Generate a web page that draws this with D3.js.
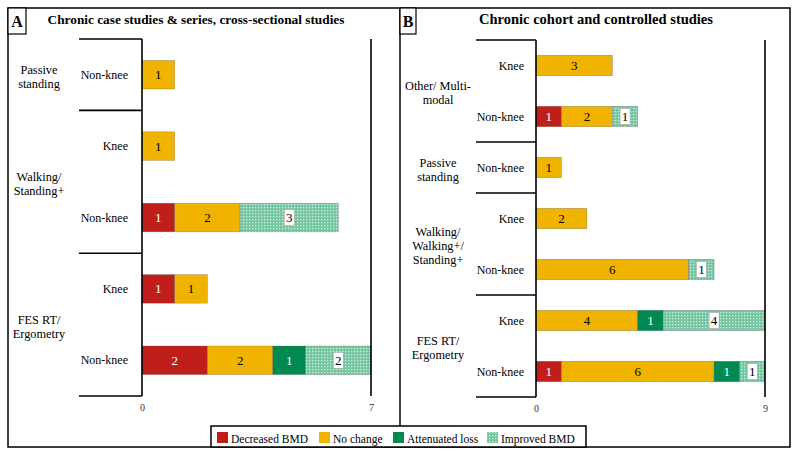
<!DOCTYPE html>
<html>
<head>
<meta charset="utf-8">
<script src="https://cdn.jsdelivr.net/npm/d3@7"></script>
<style>
  html, body { margin: 0; padding: 0; background: #fff; }
  svg, svg text { font-family: "Liberation Serif", "DejaVu Serif", serif; }
</style>
</head>
<body>
<svg id="chart" width="798" height="455" font-family="Liberation Serif"></svg>
<script>
// ---------- data ----------
const seriesNames = ["Decreased BMD", "No change", "Attenuated loss", "Improved BMD"];

// Panel A
const titleA = "Chronic case studies & series, cross-sectional studies";
const groupsA = [["Passive", "standing"], ["Walking/", "Standing+"], ["FES RT/", "Ergometry"]];
const groupSizesA = [1, 2, 2];
const rowLabelsA = ["Non-knee", "Knee", "Non-knee", "Knee", "Non-knee"];
const decreasedA = [0, 0, 1, 1, 2];
const noChangeA = [1, 1, 2, 1, 2];
const attenuatedA = [0, 0, 0, 0, 1];
const improvedA = [0, 0, 3, 0, 2];
const ticksA = [0, 7];

// Panel B
const titleB = "Chronic cohort and controlled studies";
const groupsB = [["Other/ Multi-", "modal"], ["Passive", "standing"], ["Walking/", "Walking+/", "Standing+"], ["FES RT/", "Ergometry"]];
const groupSizesB = [2, 1, 2, 2];
const rowLabelsB = ["Knee", "Non-knee", "Non-knee", "Knee", "Non-knee", "Knee", "Non-knee"];
const decreasedB = [0, 1, 0, 0, 0, 0, 1];
const noChangeB = [3, 2, 1, 2, 6, 4, 6];
const attenuatedB = [0, 0, 0, 0, 0, 1, 1];
const improvedB = [0, 1, 0, 0, 1, 4, 1];
const ticksB = [0, 9];

// ---------- drawing ----------
const FONT = "Liberation Serif, DejaVu Serif, serif";
const svg = d3.select("#chart");
const colors = ["#BF1E1B", "#F0B400", "#008A52", "url(#dots)"];
const textColors = ["#fff", "#000", "#fff", "#000"];

const defs = svg.append("defs");
const pat = defs.append("pattern").attr("id", "dots")
  .attr("patternUnits", "userSpaceOnUse").attr("width", 3).attr("height", 3);
pat.append("rect").attr("width", 3).attr("height", 3).attr("fill", "#74C5A1");
pat.append("rect").attr("width", 1.3).attr("height", 1.3).attr("fill", "#D2EFE2");

function txt(sel) { return sel.append("text").attr("font-family", FONT); }

// outer frame
svg.append("rect").attr("x", 8).attr("y", 8).attr("width", 782).attr("height", 439)
  .attr("fill", "#fff").attr("stroke", "#000").attr("stroke-width", 1.5);
svg.append("line").attr("x1", 400).attr("x2", 400).attr("y1", 8).attr("y2", 447)
  .attr("stroke", "#000").attr("stroke-width", 1.5);

function drawPanel(cfg) {
  const rows = cfg.rowLabels.map((r, i) => ({
    i, label: r,
    "Decreased BMD": cfg.dec[i], "No change": cfg.noc[i],
    "Attenuated loss": cfg.att[i], "Improved BMD": cfg.imp[i]
  }));
  const x = d3.scaleLinear().domain([0, cfg.ticks[cfg.ticks.length - 1]]).range([cfg.x0, cfg.x1]);
  const y = d3.scaleBand().domain(rows.map(d => d.i)).range([cfg.y0, cfg.y1])
    .paddingInner(0.6).paddingOuter(0.3);
  const g = svg.append("g");

  // panel letter box & title
  g.append("rect").attr("x", cfg.px).attr("y", 8).attr("width", cfg.letterW).attr("height", 26)
    .attr("fill", "#fff").attr("stroke", "#000").attr("stroke-width", 1.2);
  txt(g).attr("x", cfg.px + cfg.letterW / 2).attr("y", 27).attr("text-anchor", "middle")
    .attr("font-weight", "bold").attr("font-size", 16).text(cfg.letter);
  txt(g).attr("x", cfg.titleX).attr("y", 24).attr("text-anchor", "middle")
    .attr("font-weight", "bold").attr("font-size", cfg.titleSize).text(cfg.title);

  // stacked bars
  const stack = d3.stack().keys(seriesNames)(rows);
  stack.forEach((layer, k) => {
    layer.forEach((seg, j) => {
      const v = seg[1] - seg[0];
      if (v <= 0) return;
      const xa = x(seg[0]), xb = x(seg[1]);
      const yy = y(rows[j].i), h = y.bandwidth();
      g.append("rect").attr("x", xa).attr("y", yy).attr("width", xb - xa).attr("height", h)
        .attr("fill", colors[k]).attr("stroke", "rgba(80,80,80,0.45)").attr("stroke-width", 0.6);
      const cx = (xa + xb) / 2, cy = yy + h / 2;
      if (k === 3) {
        g.append("rect").attr("x", cx - 5).attr("y", cy - 8).attr("width", 10).attr("height", 16)
          .attr("fill", "#fff").attr("stroke", "#9a9a9a").attr("stroke-width", 0.5);
      }
      txt(g).attr("x", cx).attr("y", cy + 4.5).attr("text-anchor", "middle")
        .attr("font-size", 13).attr("fill", textColors[k]).text(v);
    });
  });

  // axis lines
  g.append("line").attr("x1", x(0)).attr("x2", x(0)).attr("y1", cfg.y0).attr("y2", cfg.y1)
    .attr("stroke", "#000").attr("stroke-width", 1.6);
  g.append("line").attr("x1", cfg.x1).attr("x2", cfg.x1).attr("y1", cfg.y0).attr("y2", cfg.y1)
    .attr("stroke", "#000").attr("stroke-width", 1.6);

  // tick labels via axis
  const axis = d3.axisBottom(x).tickValues(cfg.ticks).tickFormat(d3.format("d"))
    .tickSize(0).tickPadding(0);
  const ax = g.append("g").attr("transform", `translate(0,${cfg.y1 + 6})`).call(axis)
    .attr("font-family", FONT);
  ax.select(".domain").remove();
  ax.selectAll("text").attr("font-family", FONT).attr("font-size", 10)
    .attr("fill", "#333").attr("dy", "0.9em");

  // row labels
  rows.forEach(d => {
    txt(g).attr("x", cfg.subX).attr("y", y(d.i) + y.bandwidth() / 2 + 4)
      .attr("text-anchor", "end").attr("font-size", 12).text(d.label);
  });

  // group brackets + labels
  let start = 0;
  const step = y.step();
  const boundaries = [cfg.y0];
  cfg.groups.forEach((lines, gi) => {
    const n = cfg.sizes[gi];
    const top = cfg.y0 + start * step, bot = cfg.y0 + (start + n) * step;
    boundaries.push(bot);
    const mid = (top + bot) / 2 + 2;
    const lh = 14;
    lines.forEach((ln, li) => {
      txt(g).attr("x", cfg.groupX)
        .attr("y", mid + (li - (lines.length - 1) / 2) * lh + 4)
        .attr("text-anchor", "middle").attr("font-size", 12.3).text(ln);
    });
    start += n;
  });
  boundaries.forEach(b => {
    g.append("line").attr("x1", cfg.bracketX).attr("x2", x(0)).attr("y1", b).attr("y2", b)
      .attr("stroke", "#000").attr("stroke-width", 1.6);
  });
}

drawPanel({
  letter: "A", px: 8, letterW: 18, title: titleA, titleX: 196, titleSize: 13.3,
  rowLabels: rowLabelsA, dec: decreasedA, noc: noChangeA, att: attenuatedA, imp: improvedA,
  ticks: ticksA, x0: 142, x1: 371, y0: 39, y1: 396,
  groups: groupsA, sizes: groupSizesA, bracketX: 79, subX: 128, groupX: 39
});
drawPanel({
  letter: "B", px: 400, letterW: 16, title: titleB, titleX: 596, titleSize: 14.5,
  rowLabels: rowLabelsB, dec: decreasedB, noc: noChangeB, att: attenuatedB, imp: improvedB,
  ticks: ticksB, x0: 536, x1: 765, y0: 40, y1: 397,
  groups: groupsB, sizes: groupSizesB, bracketX: 476, subX: 524, groupX: 438
});

// legend
const lg = svg.append("g");
lg.append("rect").attr("x", 211).attr("y", 426).attr("width", 375).attr("height", 21)
  .attr("fill", "#fff").attr("stroke", "#000").attr("stroke-width", 1.5);
const legendX = [217, 319, 393, 487];
seriesNames.forEach((s, k) => {
  lg.append("rect").attr("x", legendX[k]).attr("y", 432).attr("width", 11).attr("height", 11)
    .attr("fill", colors[k]);
  txt(lg).attr("x", legendX[k] + 14).attr("y", 443).attr("font-size", 11.5).text(s);
});
</script>
</body>
</html>
